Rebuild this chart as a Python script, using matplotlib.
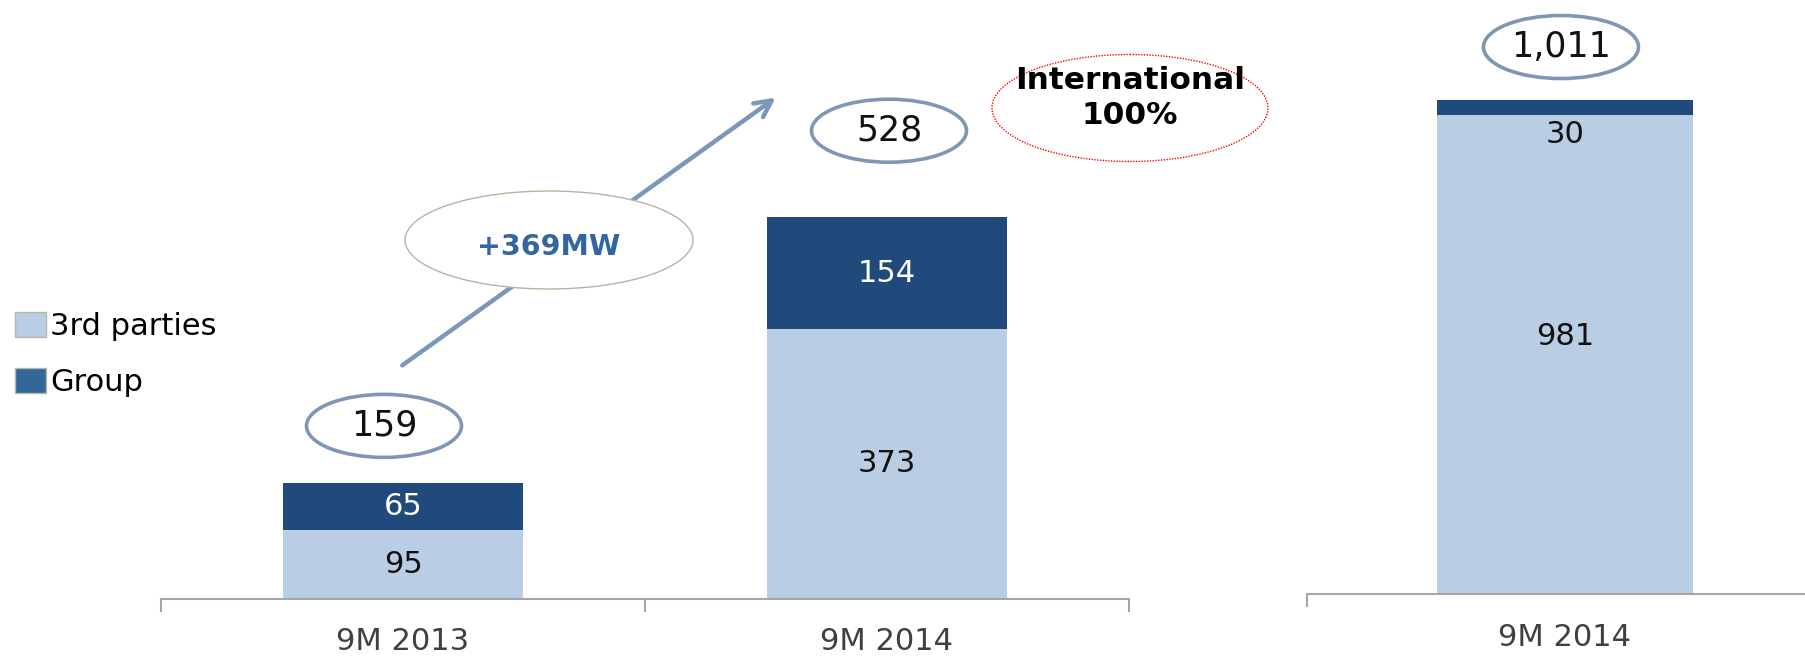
import numpy as np
import matplotlib
matplotlib.use("Agg")
import matplotlib.pyplot as plt
from matplotlib.patches import Ellipse, Patch

# data
left_cats = ["9M 2013", "9M 2014"]
left_third = [95, 373]
left_group = [65, 154]
left_totals = [159, 528]

right_cats = ["9M 2014"]
right_third = [981]
right_group = [30]
right_totals = [1011]

light = "#b9cde5"
dark = "#214a7c"
ring = "#7f97b5"
axis_grey = "#a6a6a6"

plt.rcParams["font.family"] = ["DejaVu Sans"]

W, H = 1805, 657
fig = plt.figure(figsize=(W / 100, H / 100), dpi=100)

def px_axes(x0, x1, y_bottom):
    return fig.add_axes([x0 / W, (H - y_bottom) / H, (x1 - x0) / W, y_bottom / H])

# left chart
ax1 = px_axes(161, 1129, 599)
ax1.set_xlim(-0.5, 1.5)
ax1.set_ylim(0, 599 / 0.724)
x1 = np.arange(len(left_cats))
ax1.bar(x1, left_third, width=0.496, color=light)
ax1.bar(x1, left_group, bottom=left_third, width=0.496, color=dark)

# right chart
ax2 = px_axes(1307, W, 594)
ax2.set_xlim(-0.5, -0.5 + 498 / 516)
ax2.set_ylim(0, 594 / 0.4886)
x2 = np.arange(len(right_cats))
ax2.bar(x2, right_third, width=0.496, color=light)
ax2.bar(x2, right_group, bottom=right_third, width=0.496, color=dark)

for ax, cats, edges, pad in [(ax1, left_cats, [-0.5, 0.5, 1.5], 20),
                             (ax2, right_cats, [-0.5], 21)]:
    for s in ["top", "right", "left"]:
        ax.spines[s].set_visible(False)
    ax.spines["bottom"].set_color(axis_grey)
    ax.spines["bottom"].set_linewidth(1.5)
    ax.set_yticks([])
    ax.set_xticks(range(len(cats)))
    ax.set_xticklabels(cats, fontsize=22, color="#404040")
    ax.tick_params(axis="x", which="major", length=0, pad=pad)
    ax.set_xticks(edges, minor=True)
    ax.tick_params(axis="x", which="minor", length=9, width=1.5, color=axis_grey)
    ax.patch.set_alpha(0)

# segment labels
for i in range(len(left_cats)):
    ax1.text(x1[i], left_third[i] / 2, str(left_third[i]), ha="center", va="center",
             fontsize=22, color="#111111")
    ax1.text(x1[i], left_third[i] + left_group[i] / 2, str(left_group[i]), ha="center",
             va="center", fontsize=22, color="white")
ax2.annotate(str(right_third[0]), (x2[0], right_third[0] / 2), xytext=(0, 13),
             textcoords="offset points", ha="center", va="center", fontsize=22, color="#111111")
ax2.annotate(str(right_group[0]), (x2[0], right_third[0]), xytext=(0, -14),
             textcoords="offset points", ha="center", va="center", fontsize=22, color="#111111")

# total ellipses (offsets from bar top centre in pixels)
def total_ring(ax, x, total, dx_px, lift_px, ppx, ppy, label):
    xc = x + dx_px / ppx
    yc = total + lift_px / ppy
    ax.add_patch(Ellipse((xc, yc), 155 / ppx, 63 / ppy, facecolor="none",
                         edgecolor=ring, lw=2.6, clip_on=False))
    ax.text(xc, yc, label, ha="center", va="center", fontsize=25, color="#111111")

total_ring(ax1, 0, left_totals[0], -19, 58, 484, 0.724, f"{left_totals[0]:,}")
total_ring(ax1, 1, left_totals[1], 2, 86, 484, 0.724, f"{left_totals[1]:,}")
total_ring(ax2, 0, right_totals[0], -4, 53, 516, 0.4886, f"{right_totals[0]:,}")

# overlay in pixel coordinates for arrow / callouts
ov = fig.add_axes([0, 0, 1, 1])
ov.set_xlim(0, W)
ov.set_ylim(H, 0)
ov.axis("off")
ov.patch.set_alpha(0)

ov.annotate("", xy=(778, 96), xytext=(400, 367), zorder=2,
            arrowprops=dict(arrowstyle="->,head_length=1.2,head_width=0.6",
                            color="#7b98ba", lw=3.2))
ov.add_patch(Ellipse((549, 240), 288, 98, facecolor="white", edgecolor="#b8b29e",
                     lw=1.0, zorder=4))
ov.text(549, 247, f"+{left_totals[1] - left_totals[0]}MW", ha="center", va="center",
        fontsize=20.5, fontweight="bold", color="#3366a0", zorder=5)

ov.add_patch(Ellipse((1130, 108), 276, 107, facecolor="none", edgecolor="red",
                     lw=1.0, linestyle=(0, (1, 1))))
ov.text(1130, 98, "International\n100%", ha="center", va="center", fontsize=22.5,
        fontweight="bold", color="black", linespacing=1.3)

# legend
handles = [Patch(facecolor=light, edgecolor="#b5b8a8", label="3rd parties"),
           Patch(facecolor="#336699", edgecolor="#b5b8a8", label="Group")]
fig.legend(handles=handles, loc="upper left", bbox_to_anchor=(3 / W, 1 - 300 / H),
           frameon=False, fontsize=22, handlelength=1.0, handleheight=0.85,
           handletextpad=0.15, labelspacing=0.88, borderaxespad=0)

fig.savefig("out.png", dpi=100)
